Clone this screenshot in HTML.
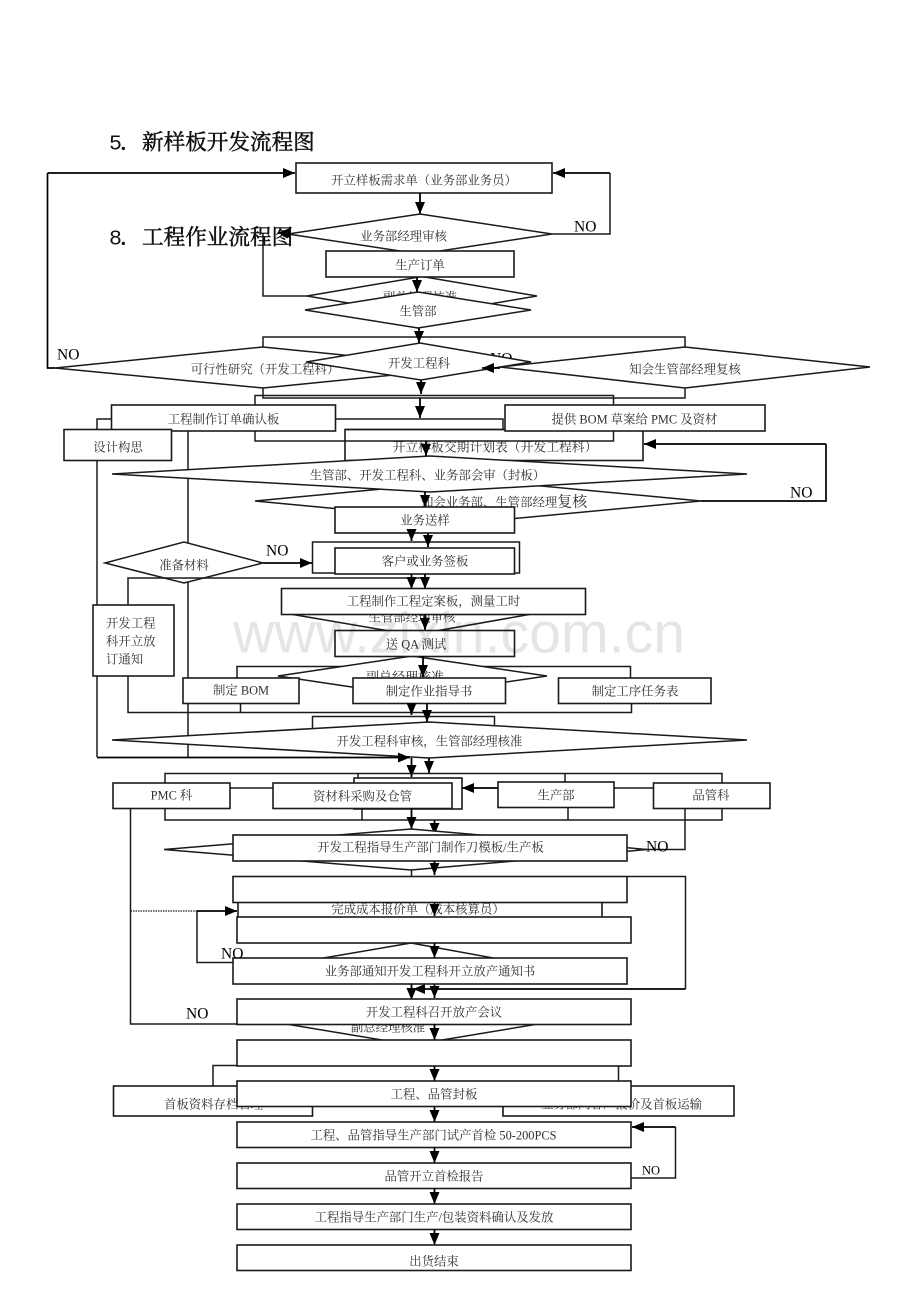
<!DOCTYPE html>
<html><head><meta charset="utf-8"><style>
html,body{margin:0;padding:0;background:#fff}
svg{display:block}
text{font-family:"Liberation Serif","Noto Serif CJK SC",serif;font-size:12.4px;fill:#2f2f2f;transform:translateY(.6px)}
.m{text-anchor:middle}
.no{font-size:15.5px;fill:#000}
.t{font-size:21.6px;fill:#111;stroke:#111;stroke-width:.5}
.n{font-family:"Liberation Mono",monospace;font-size:21.6px;fill:#111}
.b{fill:#fff;stroke:#1a1a1a;stroke-width:1.6}
.d{fill:#fff;stroke:#1a1a1a;stroke-width:1.5}
.l{fill:none;stroke:#1a1a1a;stroke-width:1.5}
.k{fill:none;stroke:#000;stroke-width:1.7}
.a{fill:none;stroke:#000;stroke-width:1.8;marker-end:url(#h)}
</style></head><body>
<svg width="920" height="1302" viewBox="0 0 920 1302" xmlns="http://www.w3.org/2000/svg">
<defs><marker id="h" markerUnits="userSpaceOnUse" markerWidth="13" markerHeight="11" refX="12" refY="5" orient="auto"><path d="M0,0 L12,5 L0,10 Z" fill="#000"/></marker></defs>

<!-- top section -->
<path class="l" d="M552,234H610V173"/>
<path class="a" d="M610,173H553"/>
<path class="k" d="M55,368H47.500V173"/>
<path class="a" d="M47.500,173H295"/>
<path class="l" d="M263,233V296H307"/>
<rect class="b" x="296" y="163" width="256" height="30"/>
<text class="m" x="424" y="184">开立样板需求单（业务部业务员）</text>
<path class="a" d="M420,193V214"/>
<polygon class="d" points="288,234 420,214 552,234 420,254"/>
<text class="m" x="403.500" y="240">业务部经理审核</text>
<polygon class="d" points="307,296 422,276.500 537,296 422,315.500"/>
<text class="m" x="420" y="301">副总经理核准</text>
<rect class="b" x="326" y="251" width="188" height="26"/>
<text class="m" x="420" y="269">生产订单</text>
<path class="a" d="M417,277V292"/>
<polygon class="d" points="305,310 418,292 531,310 418,328"/>
<text class="m" x="418" y="315">生管部</text>

<path class="l" d="M263,347V337H685V347M263,388V398H685V388"/>
<path class="a" d="M419,328V343"/>
<polygon class="d" points="55,368 263,347 469,367.500 263,388"/>
<text class="m" x="265" y="373">可行性研究（开发工程科）</text>
<text class="no" x="57" y="359">NO</text>
<text class="no" x="490" y="363">NO</text>
<polygon class="d" points="306,362 420,343 531,362 421,380"/>
<text class="m" x="419" y="367">开发工程科</text>
<polygon class="d" points="500,367 685,347 870,367 685,388"/>
<text class="m" x="685" y="373">知会生管部经理复核</text>
<path class="a" d="M500,368H482"/>
<path class="a" d="M421,380V394"/>
<text class="no" x="574" y="231">NO</text>

<!-- order / plan -->
<path class="l" d="M112,419H97V757"/>
<path class="l" d="M188,431V547M188,580V757"/>
<rect class="b" x="345" y="429.500" width="298" height="31"/>
<text class="m" x="495" y="451" style="font-size:12.800px">开立样板交期计划表（开发工程科）</text>
<path class="l" d="M255,420V395.500H613.500V441H255V431"/>
<path class="l" d="M335,419H503V430M345,429.500H505"/>
<path class="a" d="M420,398V418"/>
<rect class="b" x="111.500" y="405" width="224" height="26"/>
<text class="m" x="223.500" y="423">工程制作订单确认板</text>
<rect class="b" x="64" y="429.500" width="107.500" height="31"/>
<text class="m" x="118" y="451">设计构思</text>
<rect class="b" x="505" y="405" width="260" height="26"/>
<text class="m" x="634.500" y="423">提供 BOM 草案给 PMC 及资材</text>
<path class="k" d="M701,501H826V444"/>
<path class="a" d="M826,444H644"/>
<polygon class="d" points="255,501 478,480 701,501 478,522"/>
<text x="421" y="506">知会业务部、生管部经理<tspan style="font-size:15px">复核</tspan></text>
<polygon class="d" points="112,474 430,456 747,474 430,492"/>
<text class="m" x="427.500" y="479">生管部、开发工程科、业务部会审（封板）</text>
<path class="a" d="M426,441V456"/>
<path class="a" d="M425,492V507"/>
<text class="no" x="790" y="497">NO</text>

<rect class="b" x="335" y="507" width="179.500" height="26"/>
<text class="m" x="425" y="524">业务送样</text>
<rect class="l" x="312.500" y="542" width="207" height="31"/>
<path class="a" d="M263,563H312"/>
<path class="a" d="M411.500,533V541"/>
<path class="a" d="M428,533V547"/>
<rect class="b" x="335" y="548" width="179.500" height="26"/>
<text class="m" x="425" y="565">客户或业务签板</text>
<polygon class="d" points="105,563 184,542 263,563 184,583"/>
<text class="m" x="184" y="569">准备材料</text>
<text class="no" x="266" y="555">NO</text>
<path class="l" d="M128,605V578H425M128,676V712.500H631.500V703M240.500,703V712.500"/>
<path class="l" d="M237,678V666.500H630.500V678"/>
<path class="a" d="M411.500,574V589"/>
<path class="a" d="M425,574V589"/>
<rect class="b" x="93" y="605" width="81" height="71"/>
<text x="106" y="627">开发工程</text>
<text x="106" y="645">科开立放</text>
<text x="106" y="663">订通知</text>

<polygon class="d" points="290,614 413,635 532,614"/>
<text class="m" x="412" y="621">生管部经理审核</text>
<rect class="b" x="281.500" y="588.500" width="304" height="26"/>
<text class="m" x="433.500" y="605">工程制作工程定案板，测量工时</text>
<path class="a" d="M425,614V630"/>
<polygon class="d" points="278,676 412,656 547,676 412,696"/>
<text class="m" x="405" y="681" style="font-size:13px">副总经理核准</text>
<rect class="b" x="335" y="630.500" width="179.500" height="26"/>
<text class="m" x="416" y="648">送 QA 测试</text>
<path class="a" d="M423,656V677"/>
<rect class="b" x="183" y="678" width="116" height="25.500"/>
<text class="m" x="241" y="694">制定 BOM</text>
<rect class="b" x="353" y="678" width="152.500" height="25.500"/>
<text class="m" x="429" y="695">制定作业指导书</text>
<rect class="b" x="558.500" y="678" width="152.500" height="25.500"/>
<text class="m" x="635" y="695">制定工序任务表</text>
<rect class="l" x="312.500" y="716.500" width="182" height="20"/>
<path class="a" d="M411.500,703V715"/>
<polygon class="d" points="112,740 429,722 747,740 429,758"/>
<text class="m" x="429.500" y="745">开发工程科审核，生管部经理核准</text>
<path class="a" d="M427,703V722"/>
<path class="a" d="M97,757.500H410"/>
<path class="a" d="M411.500,758V777"/>
<path class="a" d="M429,758V773"/>

<!-- departments row -->
<path class="l" d="M165,783V773.500H722V783M565,773.500V782M165,808V820H722V808M362,808V820M568,807V820M358,773.500V778"/>
<path class="l" d="M230,788H273M653,788H614"/>
<path class="a" d="M498,788H462"/>
<rect class="b" x="354" y="778" width="108" height="31"/>
<rect class="b" x="113" y="783" width="117" height="25.500"/>
<text class="m" x="171.500" y="799">PMC 科</text>
<rect class="b" x="273" y="783" width="179" height="25.500"/>
<text class="m" x="362.500" y="800">资材科采购及仓管</text>
<rect class="b" x="498" y="782" width="116" height="25.500"/>
<text class="m" x="556" y="799">生产部</text>
<rect class="b" x="653.500" y="783" width="116.500" height="25.500"/>
<text class="m" x="711" y="799">品管科</text>

<path class="l" d="M685,808.500V849.500H627"/>
<path class="l" d="M130.500,808.500V1024H237"/>
<path class="l" d="M130.500,911H197" stroke-dasharray="1.500 1" style="stroke-width:1.200"/>
<path class="a" d="M411.500,808V829"/>
<path class="a" d="M434.500,820V835"/>
<polygon class="d" points="164,849.500 411,829 647,849.500 411,870"/>
<rect class="b" x="233" y="835" width="394" height="26"/>
<text class="m" x="430.500" y="851">开发工程指导生产部门制作刀模板/生产板</text>
<text class="no" x="646" y="851">NO</text>
<path class="a" d="M434.500,861V875"/>
<path class="l" d="M411.500,870V876"/>

<path class="l" d="M627,876.500H685.500V989"/>
<path class="a" d="M685.500,989H413"/>
<rect class="b" x="238" y="897" width="364" height="24"/>
<text class="m" x="418" y="913">完成成本报价单（成本核算员）</text>
<rect class="b" x="233" y="876.500" width="394" height="26"/>
<path class="a" d="M434.500,902V916"/>
<path class="l" d="M233,962.500H197V911"/>
<path class="a" d="M197,911H237"/>
<polygon class="d" points="300,962 411,943 515,962 411,975"/>
<rect class="b" x="237" y="917" width="394" height="26"/>
<path class="a" d="M434.500,943V958"/>
<rect class="b" x="233" y="958" width="394" height="26"/>
<text class="m" x="430" y="975">业务部通知开发工程科开立放产通知书</text>
<text class="no" x="221" y="958">NO</text>
<text class="no" x="186" y="1018">NO</text>
<path class="a" d="M411.500,984V1000"/>
<path class="a" d="M434.500,984V998"/>
<polygon class="d" points="280,1023 412,1045 544,1023"/>
<text class="m" x="388" y="1031">副总经理核准</text>
<rect class="b" x="237" y="999" width="394" height="25.500"/>
<text class="m" x="434" y="1016">开发工程科召开放产会议</text>
<path class="a" d="M434.500,1024V1040"/>

<!-- bottom -->
<path class="l" d="M237,1065.500H213V1086M618.500,1066V1082"/>
<rect class="b" x="113.500" y="1086" width="199" height="30"/>
<text x="164" y="1108">首板资料存档管理</text>
<rect class="b" x="503" y="1086" width="231" height="30"/>
<text x="541" y="1108">业务部向客户报价及首板运输</text>
<rect class="b" x="237" y="1040" width="394" height="26"/>
<path class="a" d="M434.500,1066V1081"/>
<rect class="b" x="237" y="1081" width="394" height="25.500"/>
<text class="m" x="434" y="1098">工程、品管封板</text>
<path class="a" d="M434.500,1106V1122"/>
<rect class="b" x="237" y="1122" width="394" height="25.500"/>
<text class="m" x="433.500" y="1139">工程、品管指导生产部门试产首检 50-200PCS</text>
<path class="a" d="M434.500,1147V1163"/>
<rect class="b" x="237" y="1163" width="394" height="25.500"/>
<text class="m" x="434" y="1180">品管开立首检报告</text>
<path class="l" d="M631,1178H675.500V1127"/>
<path class="a" d="M675.500,1127H632"/>
<text x="642" y="1174" style="font-size:12.500px;fill:#000">NO</text>
<path class="a" d="M434.500,1188V1204"/>
<rect class="b" x="237" y="1204" width="394" height="25.500"/>
<text class="m" x="434" y="1221">工程指导生产部门生产/包装资料确认及发放</text>
<path class="a" d="M434.500,1229V1245"/>
<rect class="b" x="237" y="1245" width="394" height="25.500"/>
<text class="m" x="434" y="1265">出货结束</text>

<!-- titles -->
<text class="n" x="109" y="149">5</text>
<text class="t" x="120" y="149">．</text>
<text class="t" x="142" y="149">新样板开发流程图</text>
<text class="n" x="109" y="244">8</text>
<text class="t" x="120" y="244">．</text>
<text class="t" x="142" y="244">工程作业流程图</text>
<path class="a" d="M290,233H278"/>

<!-- watermark -->
<text x="233" y="652" style="font-family:'Liberation Sans',sans-serif;font-size:57.300px;fill:#000;fill-opacity:.1">www.zixin.com.cn</text>
</svg>
</body></html>
